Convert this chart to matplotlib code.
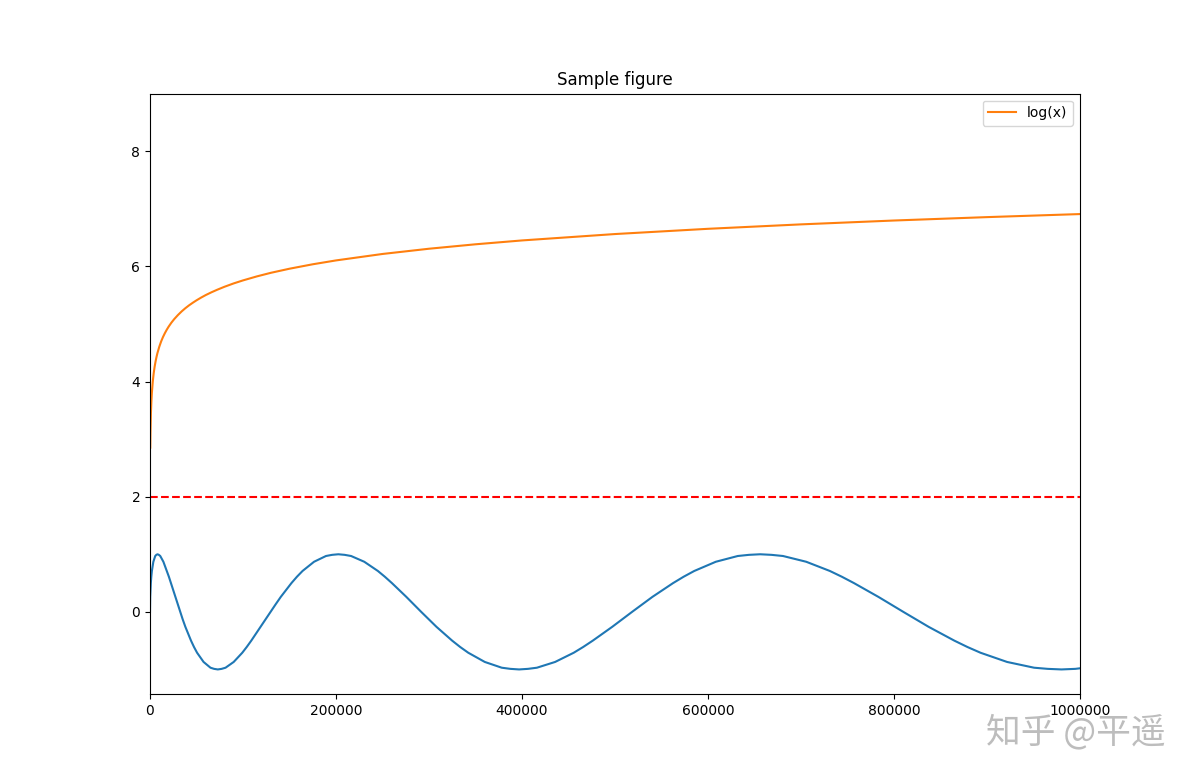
import matplotlib
matplotlib.use("Agg")
import matplotlib.pyplot as plt

# orange curve: log(x)
log_x = [300, 500, 1000, 1500, 2000, 3000, 4000, 5000, 6000, 7000, 8000, 10000,
         12000, 14000, 16000, 18000, 20000, 23000, 26000, 30000, 34000, 38000,
         42000, 46000, 50000, 55000, 60000, 66000, 72000, 80000, 90000, 100000,
         115000, 130000, 150000, 175000, 200000, 250000, 300000, 350000, 400000,
         500000, 600000, 700000, 800000, 900000, 1000000]
log_y = [2.852, 3.107, 3.454, 3.657, 3.800, 4.003, 4.147, 4.259, 4.350, 4.427, 4.494, 4.605,
         4.697, 4.774, 4.840, 4.899, 4.952, 5.022, 5.083, 5.154, 5.217, 5.273,
         5.323, 5.368, 5.410, 5.458, 5.502, 5.549, 5.592, 5.645, 5.704, 5.756,
         5.826, 5.888, 5.959, 6.036, 6.103, 6.215, 6.306, 6.383, 6.450,
         6.561, 6.652, 6.729, 6.796, 6.855, 6.908]

# blue oscillating curve
wave_x = [0, 56, 225, 506, 900, 1406, 2025, 2756, 3600, 4556, 5625, 6806,
          8100, 9506, 11025, 12656, 14400, 16256, 18225, 20306, 22500, 24806, 27225, 29756,
          32400, 35156, 38025, 41006, 44100, 47306, 50625, 54056, 57600, 61256, 65025, 68906,
          72900, 77006, 81225, 85556, 90000, 94556, 99225, 104006, 108900, 113906, 119025, 124256,
          129600, 135056, 140625, 146306, 152100, 158006, 164025, 170156, 176400, 182756, 189225, 195806,
          202500, 209306, 216225, 223256, 230400, 237656, 245025, 252506, 260100, 267806, 275625, 283556,
          291600, 299756, 308025, 316406, 324900, 333506, 342225, 351056, 360000, 369056, 378225, 387506,
          396900, 406406, 416025, 425756, 435600, 445556, 455625, 465806, 476100, 486506, 497025, 507656,
          518400, 529256, 540225, 551306, 562500, 573806, 585225, 596756, 608400, 620156, 632025, 644006,
          656100, 668306, 680625, 693056, 705600, 718256, 731025, 743906, 756900, 770006, 783225, 796556,
          810000, 823556, 837225, 851006, 864900, 878906, 893025, 907256, 921600, 936056, 950625, 965306,
          980100, 995006, 1000000]
wave_y = [0, .13, .26, .38, .5, .61, .71, .79, .87, .92, .97, .99,
          1, .99, .97, .92, .87, .79, .71, .61, .5, .38, .26, .13,
          0, -.13, -.26, -.38, -.5, -.61, -.71, -.79, -.87, -.92, -.97, -.99,
          -1, -.99, -.97, -.92, -.87, -.79, -.71, -.61, -.5, -.38, -.26, -.13,
          0, .13, .26, .38, .5, .61, .71, .79, .87, .92, .97, .99,
          1, .99, .97, .92, .87, .79, .71, .61, .5, .38, .26, .13,
          0, -.13, -.26, -.38, -.5, -.61, -.71, -.79, -.87, -.92, -.97, -.99,
          -1, -.99, -.97, -.92, -.87, -.79, -.71, -.61, -.5, -.38, -.26, -.13,
          0, .13, .26, .38, .5, .61, .71, .79, .87, .92, .97, .99,
          1, .99, .97, .92, .87, .79, .71, .61, .5, .38, .26, .13,
          0, -.13, -.26, -.38, -.5, -.61, -.71, -.79, -.87, -.92, -.97, -.99,
          -1, -.99, -.98]

threshold = 2
title = "Sample figure"
legend_label = "log(x)"
watermark = "知乎 @平遥"

fig, ax = plt.subplots(figsize=(12, 7.8), dpi=100)
ax.plot(wave_x, wave_y, color="C0", lw=1.5)
ax.plot(log_x, log_y, color="C1", lw=1.5, label=legend_label)
ax.axhline(threshold, color="r", ls="--", lw=1.5)
ax.set_xlim(0, 1000000)
ax.set_ylim(-1.43, 9)
ax.set_xticks([0, 200000, 400000, 600000, 800000, 1000000])
ax.set_yticks([0, 2, 4, 6, 8])
ax.ticklabel_format(axis="x", style="plain", useOffset=False)
ax.set_title(title)
ax.legend(loc="upper right")

fig.text(1076 / 1200, 1 - 733 / 780, watermark, ha="center", va="center",
         fontsize=25, color="#bdbdbd", family=["Noto Sans CJK SC", "DejaVu Sans"])

fig.savefig("out.png", dpi=100)
